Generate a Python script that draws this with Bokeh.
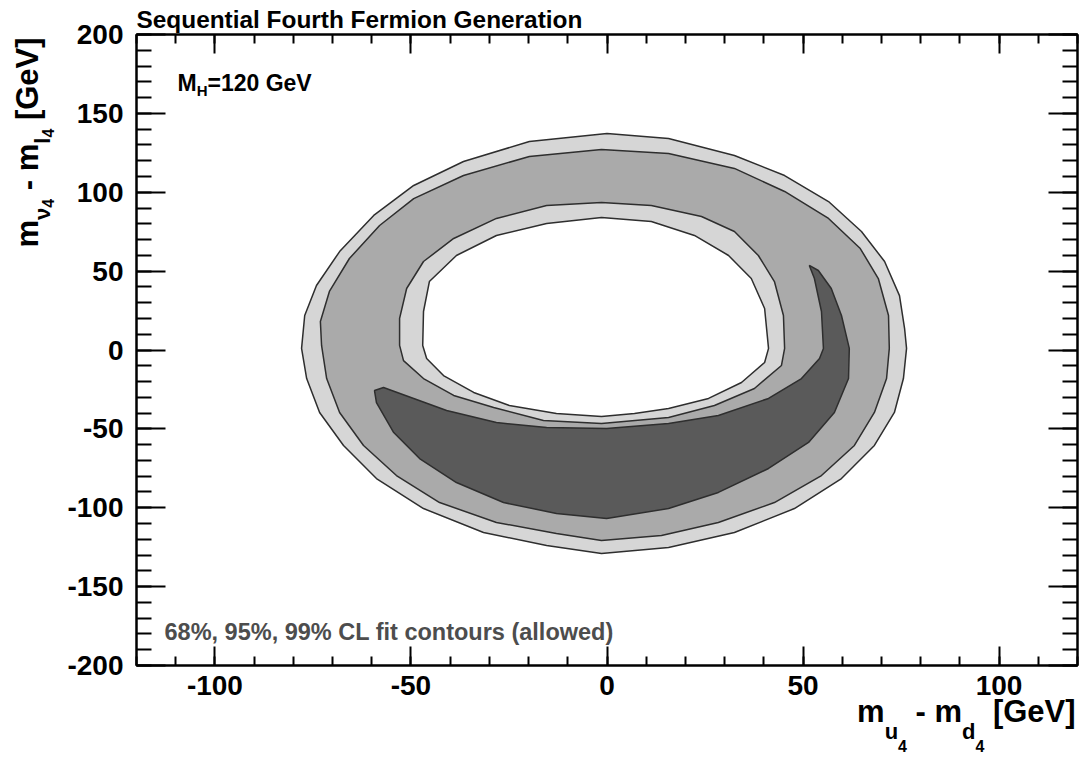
import math
from bokeh.plotting import figure
from bokeh.models import Label, LinearAxis, SingleIntervalTicker, Range1d, CustomJSTickFormatter
from bokeh.layouts import row, column
from bokeh.embed import file_html
from bokeh.resources import INLINE

# ---------------- data ----------------
x_lim = (-120, 120)
y_lim = (-200, 200)
tick_interval = 50
minor_per_major = 5

title_text = "Sequential Fourth Fermion Generation"
mh_main, mh_sub, mh_rest = "M", "H", "=120 GeV"
cl_text = "68%, 95%, 99% CL fit contours (allowed)"

# 99% CL outer boundary
outer99_x = [0.0, 15.7, 32.5, 45.3, 56.5, 64.9, 70.8, 74.6, 75.9, 76.4, 75.6, 73.3, 68.2, 59.8, 47.8, 32.5, 15.7,
             -1.4, -15.4, -31.5, -46.8, -58.8, -67.2, -73.3, -76.6, -77.9, -77.1, -74.1, -68.2, -59.5, -49.3, -36.6, -19.8]
outer99_y = [137.2, 134.1, 123.3, 110.6, 94.1, 75.1, 56.1, 34.5, 13.6, 1.0, -18.1, -39.6, -60.5, -81.5, -100.5, -115.7, -125.2,
             -129.0, -123.9, -115.7, -100.5, -81.5, -60.5, -39.6, -18.1, 1.0, 21.9, 40.9, 62.4, 85.3, 104.3, 119.5, 132.2]
# 95% CL outer boundary
outer95_x = [-1.4, 15.7, 32.5, 45.3, 56.5, 64.6, 69.2, 71.8, 72.0, 71.3, 68.2, 63.1, 54.7, 42.7, 28.4, 13.9,
             -1.4, -12.9, -28.2, -42.7, -53.7, -62.1, -68.2, -71.5, -72.8, -73.1, -70.8, -65.7, -58.0, -49.3, -36.6, -19.8]
outer95_y = [127.1, 124.6, 115.1, 100.5, 83.4, 64.3, 45.3, 21.9, 1.0, -18.1, -39.6, -60.5, -79.6, -96.7, -109.3, -117.6,
             -120.8, -116.3, -109.3, -96.7, -79.6, -60.5, -39.6, -18.1, 2.9, 18.1, 37.1, 58.0, 78.9, 96.0, 110.6, 122.7]
# 95% CL inner boundary
inner95_x = [-1.4, 11.3, 24.1, 32.5, 38.6, 42.7, 45.0, 45.3, 44.5, 37.6, 27.4, 15.7, -1.4, -16.2, -28.9, -39.1,
             -46.8, -51.9, -52.9, -52.9, -51.1, -46.8, -39.1, -28.2, -15.4]
inner95_y = [93.5, 91.6, 84.6, 75.1, 59.9, 43.4, 21.9, 1.0, -9.8, -24.4, -35.2, -42.8, -46.6, -44.7, -36.5, -28.8,
             -18.1, -6.7, 2.9, 20.0, 39.0, 56.1, 70.7, 83.4, 91.6]
# 99% CL inner boundary
inner99_x = [-1.4, 11.3, 22.3, 31.0, 36.8, 40.2, 41.2, 40.2, 34.3, 25.9, 15.7, 7.0, -1.4, -12.9, -24.9, -34.0,
             -41.7, -46.0, -47.0, -46.8, -45.3, -38.4, -28.2, -15.4]
inner99_y = [84.0, 81.5, 72.6, 59.9, 45.3, 26.3, 1.0, -7.9, -20.6, -30.7, -37.1, -40.3, -42.2, -40.3, -35.2, -26.9,
             -16.2, -5.4, 2.9, 24.4, 43.4, 59.9, 72.6, 80.2]
# 68% CL region (crescent)
c68_x = [-59.3, -57.0, -49.3, -40.9, -28.2, -15.4, -0.1, 15.7, 28.4, 41.2, 49.6, 54.2, 55.2, 54.7, 52.9, 51.6, 53.9,
         57.2, 59.8, 61.8, 61.6, 58.0, 51.4, 41.2, 28.4, 15.7, -0.1, -12.9, -26.4, -38.4, -47.8, -54.4, -58.8]
c68_y = [-25.7, -23.8, -30.7, -38.4, -46.0, -49.1, -49.8, -46.6, -41.5, -30.7, -18.1, -5.4, 1.0, 24.4, 45.3, 53.6, 50.4,
         39.0, 21.9, 1.0, -18.1, -39.6, -58.6, -75.1, -90.3, -100.5, -106.8, -103.6, -96.7, -84.0, -68.8, -52.3, -33.3]

# axis title pieces: (text, font px, baseline drop px, gap before px)
xtitle_pieces = [("m", 31, 0, 0), ("u", 22, 17, 0), ("4", 16, 29, 0), ("- m", 31, 0, 8.6),
                 ("d", 22, 17, 0), ("4", 16, 29, 0), ("[GeV]", 31, 0, 8.6)]
ytitle_pieces = [("m", 31, 0, 0), ("\u03bd", 22, 12, 0), ("4", 16, 15, 0), ("- m", 31, 0, 8.6),
                 ("l", 22, 12, 0), ("4", 16, 15, 0), ("[GeV]", 31, 0, 8.6)]

FONT = "Liberation Sans"
MID = 0.3465   # (ascent - descent)/2 in em: distance from alphabetic baseline up to the text-box middle
ADV = {'m': 889, 'u': 611, 'd': 611, '4': 556, ' ': 278, '-': 333, '[': 333, ']': 333, 'G': 778, 'e': 556,
       'V': 667, 'l': 278, '\u03bd': 556, 'M': 833, 'H': 722, '=': 584, '1': 556, '2': 556, '0': 556}


def tw(text, size):
    return sum(ADV.get(c, 556) for c in text) * size / 1000.0


# ---------------- page geometry (px) ----------------
PAGE_W, PAGE_H = 1083, 760
LEFT_W = 64          # strip holding the y-axis title
TOP_H = 34           # space above the frame (title)
FRAME_L, FRAME_W, FRAME_H = 135, 941, 631
B_LEFT = FRAME_L - LEFT_W
B_RIGHT = PAGE_W - LEFT_W - B_LEFT - FRAME_W
MAIN_BOTTOM = 42
OVERLAP = 12
BOT_TOP = TOP_H + FRAME_H + MAIN_BOTTOM - OVERLAP   # page y where the x-title strip starts
BOTTOM_H = PAGE_H - BOT_TOP


def text_fig(w, h, bl=0, br=0, transparent=False, **kw):
    f = figure(width=w, height=h, x_range=Range1d(0, w - bl - br), y_range=Range1d(0, h),
               x_axis_location=None, y_axis_location=None,
               min_border_left=bl, min_border_right=br, min_border_top=0, min_border_bottom=0,
               output_backend="svg", toolbar_location=None,
               background_fill_color=None if transparent else "white",
               border_fill_color=None if transparent else "white", **kw)
    f.outline_line_color = None
    f.grid.visible = False
    return f


def add_label(f, text, x, y, size, color="black", angle=0.0, xo=0.0, yo=0.0):
    # (x, y)/(xo, yo) locate the alphabetic baseline start; shift to the text-box middle
    if angle == 0.0:
        yo = yo + MID * size
    else:
        xo = xo - MID * size
    f.add_layout(Label(x=x, y=y, x_offset=xo, y_offset=yo, text=text, angle=angle,
                       text_font=FONT, text_font_style="bold", text_font_size=f"{size}px",
                       text_color=color, text_align="left", text_baseline="middle"))


# ---------------- main figure ----------------
p = figure(frame_width=FRAME_W, frame_height=FRAME_H,
           x_range=Range1d(*x_lim), y_range=Range1d(*y_lim),
           output_backend="svg", toolbar_location=None,
           min_border_left=B_LEFT, min_border_right=B_RIGHT,
           min_border_top=TOP_H, min_border_bottom=MAIN_BOTTOM,
           background_fill_color="white", border_fill_color="white")
p.xgrid.visible = False
p.ygrid.visible = False
p.outline_line_color = "black"
p.outline_line_width = 2

p.title.text = title_text
p.title.align = "left"
p.title.offset = 0
p.title.standoff = 4
p.title.text_font = FONT
p.title.text_font_style = "bold"
p.title.text_font_size = "24.4px"
p.title.text_color = "black"

LINE = "#2e2e2e"
LW = 1.5
p.patch(outer99_x, outer99_y, fill_color="#d6d6d6", line_color=LINE, line_width=LW)
p.patch(outer95_x, outer95_y, fill_color="#aaaaaa", line_color=LINE, line_width=LW)
p.patch(inner95_x, inner95_y, fill_color="#d6d6d6", line_color=LINE, line_width=LW)
p.patch(inner99_x, inner99_y, fill_color="#ffffff", line_color=LINE, line_width=LW)
p.patch(c68_x, c68_y, fill_color="#5a5a5a", line_color=LINE, line_width=LW)


def style_axis(ax, major_len, minor_len, labels=True, standoff=10):
    ax.ticker = SingleIntervalTicker(interval=tick_interval, num_minor_ticks=minor_per_major)
    ax.axis_label = None
    ax.axis_line_color = "black"
    ax.axis_line_width = 2
    ax.major_tick_line_color = "black"
    ax.minor_tick_line_color = "black"
    ax.major_tick_line_width = 2
    ax.minor_tick_line_width = 2
    ax.major_tick_in = major_len
    ax.major_tick_out = 0
    ax.minor_tick_in = minor_len
    ax.minor_tick_out = 0
    if labels:
        ax.formatter = CustomJSTickFormatter(code="return tick.toFixed(0);")
        ax.major_label_text_font = FONT
        ax.major_label_text_font_style = "bold"
        ax.major_label_text_font_size = "28px"
        ax.major_label_text_color = "black"
        ax.major_label_standoff = standoff
    else:
        ax.formatter = CustomJSTickFormatter(code="return '';")
        ax.major_label_text_font_size = "0px"
        ax.major_label_standoff = 0


style_axis(p.xaxis[0], 19, 9, True, 10)
style_axis(p.yaxis[0], 29, 15, True, 13)
top_ax = LinearAxis()
style_axis(top_ax, 19, 9, False)
p.add_layout(top_ax, "above")
right_ax = LinearAxis()
style_axis(right_ax, 29, 15, False)
p.add_layout(right_ax, "right")

# M_H label (inside frame, offsets from top-left corner)
xo = 41
add_label(p, mh_main, x_lim[0], y_lim[1], 23, xo=xo, yo=-56)
xo += tw(mh_main, 23)
add_label(p, mh_sub, x_lim[0], y_lim[1], 15, xo=xo, yo=-61)
xo += tw(mh_sub, 15)
add_label(p, mh_rest, x_lim[0], y_lim[1], 23, xo=xo, yo=-56)

# CL text
add_label(p, cl_text, x_lim[0], y_lim[0], 23.5, color="#4d4d4d", xo=28, yo=25)

# ---------------- x title strip ----------------
bot_fig = text_fig(PAGE_W - LEFT_W, BOTTOM_H, B_LEFT, B_RIGHT, transparent=True, margin=(-OVERLAP, 0, 0, 0))
total = sum(tw(t, s) + g for t, s, d, g in xtitle_pieces)
pos = (1075 - FRAME_L) - total
base_y = BOTTOM_H - (722 - BOT_TOP)
for t, s, d, g in xtitle_pieces:
    pos += g
    add_label(bot_fig, t, pos, base_y - d, s)
    pos += tw(t, s)

# ---------------- y title strip ----------------
left_fig = text_fig(LEFT_W, PAGE_H)
pos = PAGE_H - 247
for t, s, d, g in ytitle_pieces:
    pos += g
    add_label(left_fig, t, 38 + d, pos, s, angle=math.pi / 2)
    pos += tw(t, s)

layout = row(left_fig, column(p, bot_fig))

open("out.html", "w").write(file_html(layout, INLINE))
